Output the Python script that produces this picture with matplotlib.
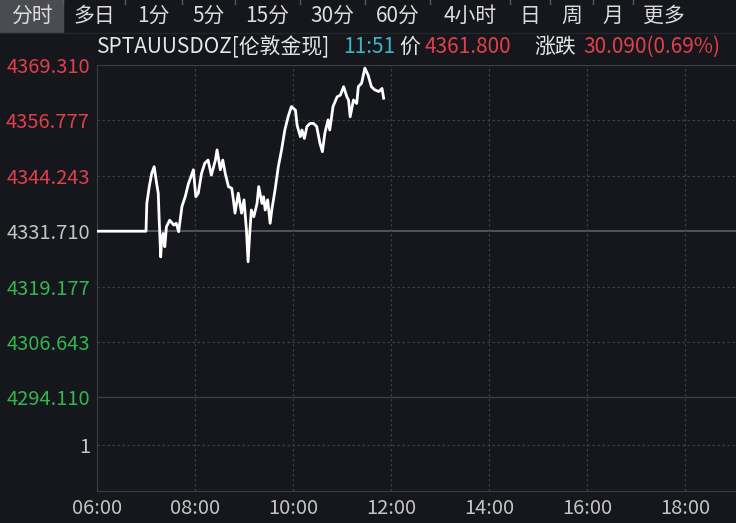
import matplotlib
matplotlib.use("Agg")
import matplotlib.pyplot as plt
from matplotlib.patches import Rectangle

plt.rcParams['font.family'] = ['Noto Sans CJK SC', 'DejaVu Sans']

# 分时数据（伦敦金现，时间 / 价格）
times = ["06:00", "07:00", "07:01", "07:04", "07:07", "07:10", "07:13", "07:15",
         "07:16", "07:18", "07:19", "07:21", "07:23", "07:25", "07:29", "07:34",
         "07:37", "07:40", "07:44", "07:48", "07:52", "07:55", "07:58", "08:01",
         "08:04", "08:08", "08:12", "08:16", "08:20", "08:25", "08:27", "08:31",
         "08:34", "08:37", "08:41", "08:45", "08:47", "08:49", "08:53", "08:57",
         "09:00", "09:03", "09:05", "09:07", "09:09", "09:12", "09:16", "09:18",
         "09:22", "09:24", "09:26", "09:29", "09:32", "09:34", "09:38", "09:42",
         "09:46", "09:50", "09:54", "09:58", "10:03", "10:05", "10:09", "10:11",
         "10:14", "10:17", "10:21", "10:25", "10:29", "10:33", "10:36", "10:39",
         "10:43", "10:45", "10:49", "10:54", "10:58", "11:02", "11:06", "11:08",
         "11:10", "11:14", "11:18", "11:20", "11:24", "11:28", "11:32", "11:36",
         "11:40", "11:45", "11:49", "11:51"]
prices = [4331.71, 4331.71, 4338.0, 4341.8, 4344.8, 4346.3, 4342.5, 4340.3,
          4335.0, 4325.9, 4329.3, 4331.2, 4328.2, 4332.7, 4334.2, 4333.1,
          4333.5, 4331.6, 4337.3, 4339.5, 4342.5, 4344.0, 4345.6, 4339.5,
          4340.3, 4344.8, 4347.1, 4347.8, 4344.4, 4347.8, 4350.1, 4345.6,
          4347.8, 4344.8, 4341.8, 4341.4, 4338.8, 4335.8, 4340.3, 4335.8,
          4338.8, 4332.0, 4324.8, 4331.2, 4336.5, 4335.0, 4338.0, 4341.8,
          4338.0, 4339.5, 4336.5, 4338.8, 4333.5, 4336.5, 4341.0, 4346.3,
          4350.1, 4354.6, 4357.6, 4359.9, 4359.1, 4355.7, 4353.1, 4354.6,
          4352.7, 4355.4, 4356.1, 4356.1, 4355.4, 4351.6, 4349.7, 4353.9,
          4356.9, 4354.6, 4359.9, 4362.1, 4362.5, 4364.4, 4362.1, 4361.4,
          4357.6, 4361.4, 4360.6, 4364.4, 4365.2, 4368.6, 4367.0, 4364.4,
          4363.7, 4363.3, 4364.0, 4361.8]

prev_close = 4331.710
y_ticks = [4369.310, 4356.777, 4344.243, 4331.710, 4319.177, 4306.643, 4294.110, 4283.34]
y_labels = ["4369.310", "4356.777", "4344.243", "4331.710", "4319.177", "4306.643", "4294.110", "1"]
x_ticks = [6, 8, 10, 12, 14, 16, 18]
x_labels = ["06:00", "08:00", "10:00", "12:00", "14:00", "16:00", "18:00"]
tabs = ["分时", "多日", "1分", "5分", "15分", "30分", "60分", "4小时", "日", "周", "月", "更多"]
tab_edges = [0, 63, 125, 182, 235, 300, 365, 430, 510, 550, 593, 633, 695]

BG = "#15171c"
RED = "#e0404a"
GREEN = "#34b54f"
GRAY = "#c4c4c4"
GRID = "#3b3e45"

W, H = 736, 523
fig = plt.figure(figsize=(W / 100, H / 100), dpi=100, facecolor=BG)

# 顶部周期切换栏
for i, name in enumerate(tabs):
    x0, x1 = tab_edges[i], tab_edges[i + 1]
    if i == 0:
        fig.patches.append(Rectangle((x0 / W, 1 - 32 / H), (x1 - x0) / W, 32 / H,
                                     transform=fig.transFigure, color="#4a4c51", zorder=0))
    else:
        fig.add_artist(plt.Line2D([x0 / W, x0 / W], [1, 1 - 4 / H], color="#55585e", lw=1))
    fig.text((x0 + x1) / 2 / W, 1 - 16 / H, name, color="#dcdcdc", fontsize=15,
             ha="center", va="center")
fig.add_artist(plt.Line2D([0, 1], [1 - 32.5 / H, 1 - 32.5 / H], color="#24262b", lw=1))

# 标题行
title_y = 1 - 47 / H
parts = [(97, "SPTAUUSDOZ[伦敦金现]", "#e6e6e6"), (343, "11:51", "#3fb6c6"),
         (399, "价", "#e6e6e6"), (425, "4361.800", RED), (534, "涨跌", "#e6e6e6"),
         (583, "30.090(0.69%)", RED)]
for x, s, c in parts:
    fig.text(x / W, title_y, s, color=c, fontsize=15, ha="left", va="center")

# 主图
ax = fig.add_axes([97 / W, 32 / H, (W - 97) / W, (491 - 65) / H])
ax.set_facecolor(BG)
hours = [int(t[:2]) + int(t[3:]) / 60 for t in times]
ax.plot(hours, prices, color="white", lw=2.0, zorder=5)

ax.set_xlim(6, 6 + (W - 97) / 49)
ax.set_ylim(4369.31 - (491 - 65) * 12.533 / 55.4, 4369.31)

for v in y_ticks[1:]:
    if v == prev_close:
        ax.axhline(v, color="#5d6066", lw=1.2, zorder=2)
    elif v == 4294.110:
        ax.axhline(v, color=GRID, lw=1, zorder=2)
    else:
        ax.axhline(v, color=GRID, lw=0.9, ls=(0, (2, 2)), zorder=2)
for v in x_ticks[1:]:
    ax.axvline(v, color=GRID, lw=0.9, ls=(0, (2, 2)), zorder=2)

for s in ["left", "bottom", "top"]:
    ax.spines[s].set_color(GRID)
ax.spines["right"].set_visible(False)

ax.set_yticks(y_ticks)
ax.set_yticklabels(y_labels, fontsize=14.5)
for lab, v in zip(ax.get_yticklabels(), y_ticks):
    if v > prev_close + 0.001:
        lab.set_color(RED)
    elif abs(v - prev_close) < 0.001 or v < 4290:
        lab.set_color(GRAY)
    else:
        lab.set_color(GREEN)
ax.set_xticks(x_ticks)
ax.set_xticklabels(x_labels, fontsize=14.5, color=GRAY)
ax.tick_params(length=0, pad=5)

fig.savefig("out.png", dpi=100, facecolor=BG)
